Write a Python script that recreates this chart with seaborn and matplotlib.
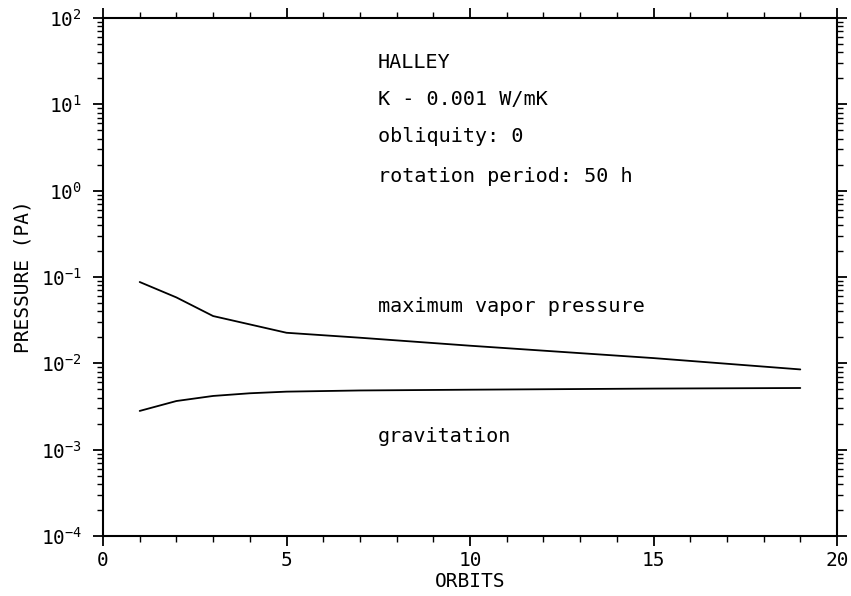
import numpy as np
import pandas as pd
import matplotlib
matplotlib.use("Agg")
import matplotlib.pyplot as plt
import seaborn as sns
from matplotlib.ticker import LogLocator, MultipleLocator, FixedLocator

# Data
orbits_vap = [1, 2, 3, 5, 7, 10, 15, 19]
vapor_pressure = [0.0875, 0.0580, 0.0353, 0.0226, 0.0198, 0.0160, 0.0115, 0.0085]
orbits_grav = [1, 2, 3, 4, 5, 7, 10, 15, 19]
gravitation = [0.00281, 0.00366, 0.00419, 0.00450, 0.00470, 0.00485, 0.00495, 0.00510, 0.00518]

x_ticks = [0, 5, 10, 15, 20]
annot_lines = ["HALLEY", "K - 0.001 W/mK", "obliquity: 0", "rotation period: 50 h"]

df = pd.concat([
    pd.DataFrame({"orbits": orbits_vap, "pressure": vapor_pressure, "series": "maximum vapor pressure"}),
    pd.DataFrame({"orbits": orbits_grav, "pressure": gravitation, "series": "gravitation"}),
])

sns.set_theme(style="ticks")
plt.rcParams["font.family"] = ["DejaVu Sans Mono", "DejaVu Sans"]

fig = plt.figure(figsize=(8.51, 5.96), dpi=100)
ax = fig.add_axes([103 / 851, 60 / 596, (837 - 103) / 851, (536 - 18) / 596])

sns.lineplot(data=df, x="orbits", y="pressure", units="series", estimator=None,
             color="black", linewidth=1.3, ax=ax, legend=False)

ax.set_yscale("log")
ax.set_xlim(0, 20)
ax.set_ylim(1e-4, 1e2)
ax.xaxis.set_major_locator(FixedLocator(x_ticks))
ax.xaxis.set_minor_locator(MultipleLocator(1))
ax.yaxis.set_major_locator(LogLocator(base=10, numticks=10))
ax.yaxis.set_minor_locator(LogLocator(base=10, subs=np.arange(2, 10), numticks=20))
ax.set_xticklabels([str(t) for t in x_ticks])

for s in ax.spines.values():
    s.set_visible(True)
    s.set_color("black")
    s.set_linewidth(1.5)

ax.tick_params(which="both", direction="out", top=True, right=True, colors="black",
               labelsize=14)
ax.tick_params(which="major", length=7, width=1.3)
ax.tick_params(which="minor", length=4, width=1.0)
ax.tick_params(axis="y", which="major", pad=8)
ax.tick_params(axis="x", which="both", labeltop=False)
ax.tick_params(axis="y", which="both", labelright=False)

ax.set_xlabel("ORBITS", fontsize=14, color="black", labelpad=2)
ax.set_ylabel("PRESSURE (PA)", fontsize=14, color="black", labelpad=6)

ys = [63, 99, 137, 177]
for txt, yp in zip(annot_lines, ys):
    ax.text(378 / 851, 1 - yp / 596, txt, transform=fig.transFigure, fontsize=14.5,
            va="center", ha="left", color="black")
ax.text(378 / 851, 1 - 307 / 596, "maximum vapor pressure", transform=fig.transFigure,
        fontsize=14.5, va="center", ha="left", color="black")
ax.text(378 / 851, 1 - 437 / 596, "gravitation", transform=fig.transFigure,
        fontsize=14.5, va="center", ha="left", color="black")

fig.savefig("out.png", dpi=100, facecolor="white")
